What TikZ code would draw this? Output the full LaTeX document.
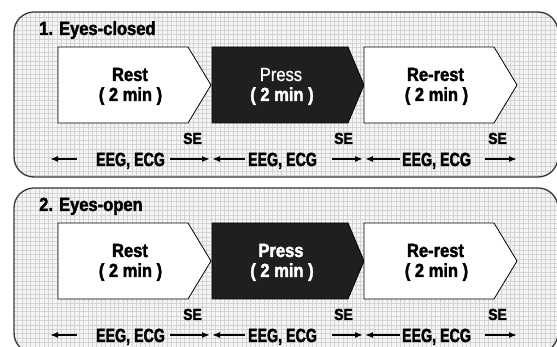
\documentclass[tikz,border=0pt]{standalone}
\usepackage{fontspec}
\setmainfont[FakeStretch=0.87, BoldFeatures={FakeBold=2}]{Liberation Sans}
\newfontfamily\narrowfont[FakeStretch=0.75, BoldFeatures={FakeBold=2}]{Liberation Sans}
\newfontfamily\mediumfont[FakeStretch=0.87, FakeBold=0.8]{Liberation Sans}
\usetikzlibrary{arrows.meta}

\begin{document}
\begin{tikzpicture}[x=1pt,y=1pt,
  panel/.style={draw=black!78, line width=1.3pt, rounded corners=20pt},
  gridlines/.style={draw=gray!34, line width=0.9pt},
  stage/.style={draw=black, line width=0.8pt, fill=white},
  darkstage/.style={draw=black, line width=0.8pt, fill=black!88},
  title/.style={font=\bfseries\fontsize{19}{21}\selectfont, anchor=base west, inner sep=0pt},
  boxtext/.style={font=\bfseries\fontsize{19}{21}\selectfont, anchor=base, inner sep=0pt},
  setext/.style={font=\bfseries\fontsize{16}{18}\selectfont, anchor=base east, inner sep=0pt},
  sigtext/.style={font=\narrowfont\bfseries\fontsize{19}{21}\selectfont, anchor=base, inner sep=0pt},
  flow/.style={line width=1.5pt, -{Latex[length=8pt,width=6pt]}}
]
\useasboundingbox (0,0) rectangle (557,347);

\foreach \dy/\ttl/\pw [count=\n] in {0/{1. Eyes-closed}/\mediumfont, -176/{2. Eyes-open}/\bfseries}{
  \begin{scope}[yshift=\dy]
    % graph-paper background of the panel
    \begin{scope}
      \clip[rounded corners=20pt] (14,335) rectangle (558,170);
      \fill[white!96!black] (10,160) rectangle (560,340);
      \draw[gridlines, step=4.4pt] (10,160) grid (560,340);
    \end{scope}
    \draw[panel] (14,335) rectangle (558,170);

    \node[title] (title\n) at (39,312) {\ttl};

    % the three stages
    \draw[stage] (58,300) -- (188,300) -- (211,262) -- (188,224) -- (58,224) -- cycle;
    \draw[darkstage] (212,300) -- (348,300) -- (364,262) -- (348,224) -- (212,224) -- cycle;
    \draw[stage] (364,300) -- (494,300) -- (517,262) -- (494,224) -- (364,224) -- cycle;

    \node[boxtext] (rest\n) at (130,266) {Rest};
    \node[boxtext] (restt\n) at (130.5,246) {( 2 min )};
    \node[boxtext, text=white, font=\pw\fontsize{19}{21}\selectfont] (press\n) at (281,266) {Press};
    \node[boxtext, text=white] (presst\n) at (282,246) {( 2 min )};
    \node[boxtext] (rerest\n) at (435.5,266) {Re-rest};
    \node[boxtext] (rerestt\n) at (436.5,246) {( 2 min )};

    % SE markers
    \node[setext] (seA\n) at (202,203) {SE};
    \node[setext] (seB\n) at (353,203) {SE};
    \node[setext] (seC\n) at (507,203) {SE};

    % recording labels and their spans
    \node[sigtext] (eegA\n) at (130.5,181) {EEG, ECG};
    \node[sigtext] (eegB\n) at (282.5,181) {EEG, ECG};
    \node[sigtext] (eegC\n) at (436.5,181) {EEG, ECG};

    \coordinate (la\n) at (77,188);  \coordinate (lat\n) at (50,188);
    \coordinate (ra\n) at (170,188); \coordinate (rat\n) at (210,188);
    \coordinate (lb\n) at (245,188); \coordinate (lbt\n) at (212,188);
    \coordinate (rb\n) at (332,188); \coordinate (rbt\n) at (363,188);
    \coordinate (lc\n) at (400,188); \coordinate (lct\n) at (365,188);
    \coordinate (rc\n) at (485,188); \coordinate (rct\n) at (517,188);

    \draw[flow] (la\n) -- (lat\n);
    \draw[flow] (ra\n) -- (rat\n);
    \draw[flow] (lb\n) -- (lbt\n);
    \draw[flow] (rb\n) -- (rbt\n);
    \draw[flow] (lc\n) -- (lct\n);
    \draw[flow] (rc\n) -- (rct\n);
  \end{scope}
}
\end{tikzpicture}
\end{document}
